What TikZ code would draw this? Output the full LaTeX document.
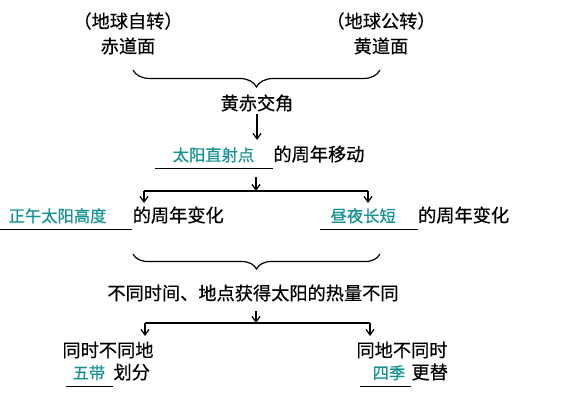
\documentclass[tikz,border=0pt]{standalone}
\usepackage{fontspec}
\usetikzlibrary{arrows.meta,decorations.pathreplacing}
\newfontfamily\cjk[FakeBold=0.5]{Noto Sans CJK SC}
\definecolor{keyteal}{RGB}{20,145,145}
\newcommand{\padded}[3]{\hspace*{#1pt}#2\hspace*{#3pt}}
\begin{document}
\begin{tikzpicture}[x=1pt,y=-1pt,>={Straight Barb[length=5.5pt,width=8pt]},line width=1.3pt,
  txt/.style={font=\cjk\fontsize{18.2}{20}\selectfont,inner sep=2pt},
  key/.style={font=\cjk\fontsize{16.3}{18}\selectfont,text=keyteal,inner xsep=0pt,inner ysep=2pt},
  blank/.style={draw,line width=0.9pt},
  bracedown/.style={decorate,decoration={brace,mirror,amplitude=#1},line width=1.2pt}]

 \useasboundingbox (0,0) rectangle (562,407);

 \node (node_0) at (128,21) [txt] {（地球自转）};
 \node (node_1) at (128,46) [txt] {赤道面};
 \node (node_2) at (381,21) [txt] {（地球公转）};
 \node (node_3) at (381,46) [txt] {黄道面};
 \draw [bracedown=17pt] (133,70) -- (380,70);

 \node (node_4) at (257,103) [txt] {黄赤交角};
 \node (node_5) at (155,161) [key,anchor=base west] {\padded{17}{太阳直射点}{18}};
 \node (node_6) at (node_5.base east) [txt,anchor=base west,inner xsep=0pt] {的周年移动};
 \draw [blank] ([yshift=-7pt]node_5.base west) -- ([yshift=-7pt]node_5.base east);

 \node (node_7) at (0,222) [key,anchor=base west] {\padded{8}{正午太阳高度}{25}};
 \node (node_8) at (node_7.base east) [txt,anchor=base west,inner xsep=0pt] {的周年变化};
 \draw [blank] ([yshift=-7pt]node_7.base west) -- ([yshift=-7pt]node_7.base east);
 \node (node_9) at (320,222) [key,anchor=base west] {\padded{10}{昼夜长短}{21}};
 \node (node_10) at (node_9.base east) [txt,anchor=base west,inner xsep=0pt] {的周年变化};
 \draw [blank] ([yshift=-7pt]node_9.base west) -- ([yshift=-7pt]node_9.base east);
 \draw [bracedown=15pt] (133,254) -- (380,254);

 \node (node_11) at (253,293) [txt] {不同时间、地点获得太阳的热量不同};
 \node (node_12) at (108,350) [txt] {同时不同地};
 \node (node_13) at (66,379) [key,anchor=base west] {\padded{6}{五带}{7}};
 \node (node_14) at (node_13.base east) [txt,anchor=base west,inner xsep=0pt] {划分};
 \draw [blank] ([yshift=-7pt]node_13.base west) -- ([yshift=-7pt]node_13.base east);
 \node (node_15) at (402,350) [txt] {同地不同时};
 \node (node_16) at (360,379) [key,anchor=base west] {\padded{12}{四季}{5}};
 \node (node_17) at (node_16.base east) [txt,anchor=base west,inner xsep=0pt] {更替};
 \draw [blank] ([yshift=-7pt]node_16.base west) -- ([yshift=-7pt]node_16.base east);

 % forks
 \coordinate (top_0) at (257,140);
 \coordinate (src_1) at (256,177);
 \coordinate (fork_1) at (256,191);
 \coordinate (fork_1l) at (144,191);
 \coordinate (fork_1r) at (368,191);
 \coordinate (end_1l) at (144,203);
 \coordinate (end_1r) at (368,203);
 \coordinate (src_2) at (256,311);
 \coordinate (fork_2) at (256,323);
 \coordinate (fork_2l) at (145,323);
 \coordinate (fork_2r) at (370,323);
 \coordinate (end_2l) at (145,336);
 \coordinate (end_2r) at (370,336);

  \draw [black,->] (node_4) -- (top_0);
  \draw [black,->] (src_1) -- (fork_1);
  \draw [black] (fork_1l) -- (fork_1r);
  \draw [black,->] (fork_1l) -- (end_1l);
  \draw [black,->] (fork_1r) -- (end_1r);
  \draw [black,->] (src_2) -- (fork_2);
  \draw [black] (fork_2l) -- (fork_2r);
  \draw [black,->] (fork_2l) -- (end_2l);
  \draw [black,->] (fork_2r) -- (end_2r);

\end{tikzpicture}
\end{document}
